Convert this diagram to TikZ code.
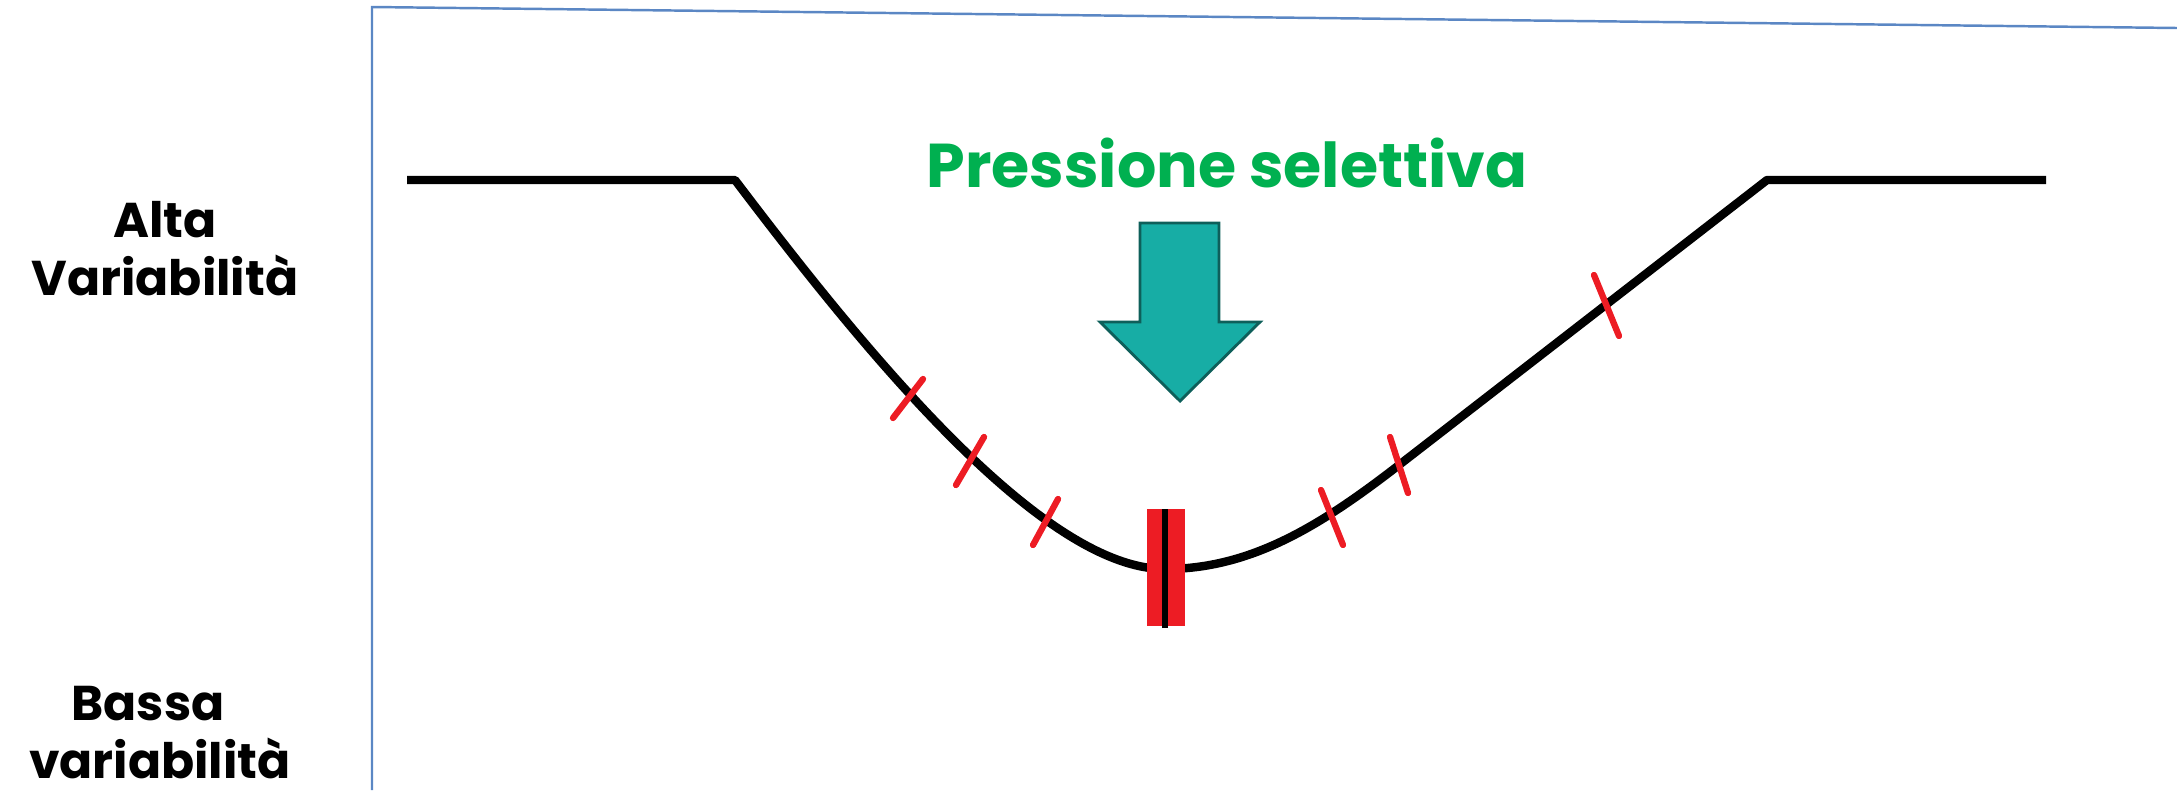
\documentclass[tikz,border=0pt]{standalone}
\usepackage{fontspec}
\setmainfont{Poppins}
\usepackage{tikz}
\usetikzlibrary{positioning}
\definecolor{frameblue}{RGB}{91,135,196}
\definecolor{selgreen}{RGB}{0,176,80}
\definecolor{arrowteal}{RGB}{23,173,165}
\definecolor{arrowedge}{RGB}{14,95,90}
\definecolor{tickred}{RGB}{237,28,36}

\begin{document}
\begin{tikzpicture}
  \useasboundingbox (0,0) rectangle (21.77,7.9);
  % Frame
  \draw[frameblue, line width=0.7pt] (3.72,0) -- (3.72,7.83) -- (21.77,7.62);
  % Variability curve
  \draw[line width=2.4pt, line join=round] (4.07,6.10) -- (7.35,6.10)
    .. controls (8.6,4.45) and (10.4,2.21) .. (11.65,2.21)
    .. controls (12.5,2.21) and (13.19,2.63) .. (13.99,3.25)
    -- (17.67,6.10) -- (20.46,6.10);
  % Red marks
  \foreach \xa/\ya/\xb/\yb in {9.23/4.11/8.93/3.72, 9.84/3.53/9.56/3.05,
      10.58/2.91/10.33/2.45, 13.21/3.00/13.43/2.45,
      13.90/3.53/14.08/2.97, 15.94/5.15/16.19/4.54} {
    \draw[tickred, line width=1.8pt, line cap=round] (\xa,\ya) -- (\xb,\yb);
  }
  % Bottleneck
  \fill[tickred] (11.47,1.64) rectangle (11.85,2.81);
  \draw[line width=1.5pt] (11.65,1.62) -- (11.65,2.81);
  % Arrow
  \draw[arrowedge, fill=arrowteal, line width=0.8pt, line join=miter]
    (11.40,5.67) -- (12.19,5.67) -- (12.19,4.68) -- (12.60,4.68)
    -- (11.80,3.89) -- (11.00,4.68) -- (11.40,4.68) -- cycle;
  % Labels
  \node[selgreen, font=\fontsize{17.6}{21}\selectfont\bfseries, anchor=base] (press) at (12.27,6.03) {Pressione selettiva};
  \node[font=\fontsize{13.9}{17}\selectfont\bfseries, anchor=base] (alta) at (1.65,5.53) {Alta};
  \node[font=\fontsize{13.9}{17}\selectfont\bfseries, anchor=base] (altavar) at (1.65,4.95) {Variabilità};
  \node[font=\fontsize{13.9}{17}\selectfont\bfseries, anchor=base] (bassa) at (1.48,0.70) {Bassa};
  \node[font=\fontsize{13.9}{17}\selectfont\bfseries, anchor=base] (bassavar) at (1.60,0.12) {variabilità};
\end{tikzpicture}
\end{document}
